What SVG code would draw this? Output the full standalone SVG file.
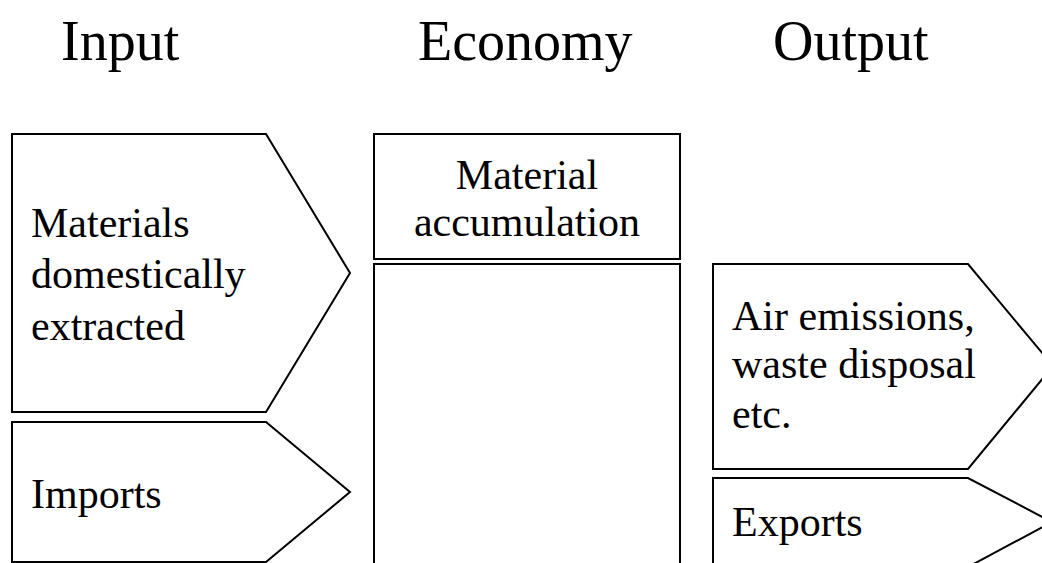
<svg xmlns="http://www.w3.org/2000/svg" width="1042" height="563" viewBox="0 0 1042 563">
<style>
.shape{fill:#fff;stroke:#000;stroke-width:2}
.t{font-family:"Liberation Serif","Times New Roman",serif;fill:#000}
.title{font-size:56px}
.lbl{font-size:42px}
</style>
<rect width="1042" height="563" fill="#fff"/>
<g id="titles">
<text class="t title" x="61" y="60">Input</text>
<text class="t title" x="418" y="60">Economy</text>
<text class="t title" x="773" y="60">Output</text>
</g>
<g id="connectors"></g>
<g id="node-domestic">
<path class="shape" d="M12,134 H266 L350,273 L266,412 H12 Z"/>
<text class="t lbl" x="31" y="237">Materials</text>
<text class="t lbl" x="31" y="288">domestically</text>
<text class="t lbl" x="31" y="340">extracted</text>
</g>
<g id="node-imports">
<path class="shape" d="M12,422 H266 L350,492 L266,562 H12 Z"/>
<text class="t lbl" x="31" y="508">Imports</text>
</g>
<g id="node-accumulation">
<rect class="shape" x="374" y="134" width="306" height="125"/>
<text class="t lbl" x="527" y="189" text-anchor="middle">Material</text>
<text class="t lbl" x="527" y="236" text-anchor="middle">accumulation</text>
</g>
<g id="node-economy">
<rect class="shape" x="374" y="264" width="306" height="320"/>
</g>
<g id="node-emissions">
<path class="shape" d="M713,264 H968 L1053,366 L968,469 H713 Z"/>
<text class="t lbl" x="732" y="330">Air emissions,</text>
<text class="t lbl" x="732" y="378">waste disposal</text>
<text class="t lbl" x="732" y="428">etc.</text>
</g>
<g id="node-exports">
<path class="shape" d="M713,478 H968 L1052,522 L968,567 H713 Z"/>
<text class="t lbl" x="732" y="536">Exports</text>
</g>
</svg>
